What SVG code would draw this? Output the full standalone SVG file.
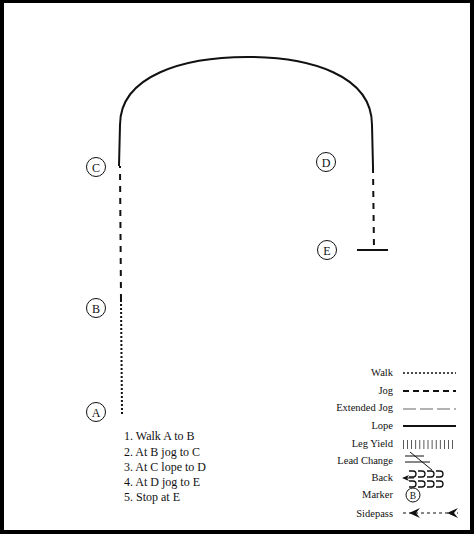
<svg xmlns="http://www.w3.org/2000/svg" width="474" height="534" viewBox="0 0 474 534">
<style>
text{font-family:"Liberation Serif","Times New Roman",serif;fill:#111}
.lbl{font-size:10.5px;text-anchor:end}
.step{font-size:12px}
.mk{font-size:12px;text-anchor:middle}
.circ{fill:#fff;stroke:#111;stroke-width:1}
.walk{stroke:#111;stroke-width:2;stroke-dasharray:2 2;fill:none}
.jog{stroke:#111;stroke-width:2;stroke-dasharray:6 6;fill:none}
.lope{stroke:#111;stroke-width:2;fill:none}
.thin{stroke:#111;stroke-width:1;fill:none}
</style>
<rect x="0" y="0" width="474" height="534" fill="#000"/>
<rect x="4" y="3" width="466" height="527" fill="#fff"/>

<g id="connectors">
  <line class="walk" x1="122" y1="414" x2="121" y2="300"/>
  <line class="jog" x1="121" y1="300" x2="120" y2="166"/>
  <path class="lope" d="M119,166 L120,125 C120,75 185,57 247,57 C310,57 372,75 372,125 L373,167"/>
  <line class="jog" x1="373" y1="167" x2="374" y2="250"/>
  <line class="lope" x1="357" y1="250" x2="388" y2="250"/>
</g>

<g id="marker-A"><circle class="circ" cx="96" cy="412" r="9.5"/><text class="mk" x="96" y="416.5">A</text></g>
<g id="marker-B"><circle class="circ" cx="96" cy="308" r="9.5"/><text class="mk" x="96" y="312.5">B</text></g>
<g id="marker-C"><circle class="circ" cx="96" cy="167" r="9.5"/><text class="mk" x="96" y="171.5">C</text></g>
<g id="marker-D"><circle class="circ" cx="326" cy="162" r="9.5"/><text class="mk" x="326" y="166.5">D</text></g>
<g id="marker-E"><circle class="circ" cx="327" cy="250" r="9.5"/><text class="mk" x="327" y="254.5">E</text></g>

<g id="steps">
  <text class="step" x="124" y="440">1. Walk A to B</text>
  <text class="step" x="124" y="456">2. At B jog to C</text>
  <text class="step" x="124" y="471">3. At C lope to D</text>
  <text class="step" x="124" y="486">4. At D jog to E</text>
  <text class="step" x="124" y="501">5. Stop at E</text>
</g>

<g id="legend">
  <text class="lbl" x="393" y="376">Walk</text>
  <line class="walk" x1="403" y1="373" x2="456" y2="373" style="stroke-width:1.5"/>
  <text class="lbl" x="393" y="394">Jog</text>
  <line class="jog" x1="403" y1="391" x2="456" y2="391" style="stroke-dasharray:6 4"/>
  <text class="lbl" x="393" y="411">Extended Jog</text>
  <line x1="403" y1="409" x2="456" y2="409" stroke="#666" stroke-width="1.2" stroke-dasharray="13 4"/>
  <text class="lbl" x="393" y="429">Lope</text>
  <line class="lope" x1="403" y1="426" x2="456" y2="426"/>
  <text class="lbl" x="393" y="447">Leg Yield</text>
  <line x1="403" y1="440" x2="456" y2="440" stroke="#333" stroke-width="9" stroke-dasharray="0.8 3.3" transform="translate(0,4.5)"/>
  <text class="lbl" x="393" y="464">Lead Change</text>
  <line class="thin" x1="405" y1="456" x2="424" y2="456"/>
  <line class="thin" x1="405" y1="462" x2="430" y2="462"/>
  <line class="thin" x1="410" y1="452" x2="432" y2="470"/>
  <text class="lbl" x="393" y="481">Back</text>
  <path d="M402,478 L409,475 L407,478 L409,481 Z" fill="#111"/>
  <line class="thin" x1="406" y1="478" x2="414" y2="478"/>
  <path class="thin" style="stroke-width:1.3" d="M409,471 h4 a3,3 0 0 1 0,6 h-4 M418,471 h4 a3,3 0 0 1 0,6 h-4 M427,471 h4 a3,3 0 0 1 0,6 h-4 M436,471 h4 a3,3 0 0 1 0,6 h-4"/>
  <path class="thin" style="stroke-width:1.3" d="M409,481 h4 a3,3 0 0 1 0,6 h-4 M418,481 h4 a3,3 0 0 1 0,6 h-4 M427,481 h4 a3,3 0 0 1 0,6 h-4 M436,481 h4 a3,3 0 0 1 0,6 h-4"/>
  <text class="lbl" x="393" y="498">Marker</text>
  <circle class="circ" cx="413" cy="495" r="7"/><text x="413" y="498.5" style="font-size:9.5px;text-anchor:middle">B</text>
  <text class="lbl" x="393" y="517">Sidepass</text>
  <line x1="403" y1="513" x2="458" y2="513" stroke="#111" stroke-width="1.2" stroke-dasharray="3 3"/>
  <path d="M409,513 L420,508 L416,513 L420,518 Z" fill="#111"/>
  <path d="M447,513 L458,508 L454,513 L458,518 Z" fill="#111"/>
</g>
</svg>
